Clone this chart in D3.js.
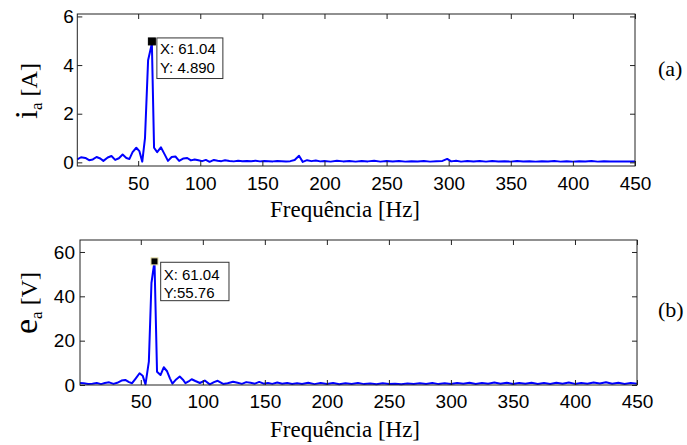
<!DOCTYPE html>
<html>
<head>
<meta charset="utf-8">
<script src="https://cdn.jsdelivr.net/npm/d3@7"></script>
<style>
  html, body { margin: 0; padding: 0; background: #fff; }
  svg { display: block; }
</style>
</head>
<body>
<svg id="chart" width="687" height="445"></svg>
<script>
// ---------- data ----------
const xTickValues = [50, 100, 150, 200, 250, 300, 350, 400, 450];
const iaTickValues = [0, 2, 4, 6];
const eaTickValues = [0, 20, 40, 60];

// (a) current spectrum i_a [A]
const iaFreq = [1, 4, 7.5, 10.5, 13.5, 16.5, 19.5, 22, 25.5, 28.5, 31.5, 34.5, 37.5, 40.5, 43, 45.5, 48.5, 51, 53.3, 55.5, 58, 61.04, 62.8, 65.3, 68.3, 71, 74, 77, 80, 83, 86.5, 89.5, 92.5, 95.5, 98.5, 101.5, 104.5, 107.5, 111, 114, 117, 120, 123.5, 127, 130.5, 134, 137.5, 141, 144.5, 148, 151.5, 155, 158.5, 162, 165.5, 169, 172.5, 176, 179.5, 182.5, 186, 189.5, 193, 196.5, 200, 205, 210, 215, 220, 225, 230, 235, 240, 245, 250, 255, 260, 265, 270, 275, 280, 285, 290, 295, 298.8, 302, 306, 310, 315, 320, 325, 330, 335, 340, 345, 350, 355, 360, 365, 370, 375, 380, 385, 390, 395, 400, 405, 410, 415, 420, 425, 430, 435, 440, 445, 450];
const iaAmp  = [0.12, 0.21, 0.18, 0.09, 0.12, 0.22, 0.16, 0.06, 0.2, 0.26, 0.1, 0.17, 0.32, 0.18, 0.14, 0.42, 0.6, 0.46, 0.03, 1.0, 4.2, 4.89, 0.6, 0.42, 0.62, 0.36, 0.06, 0.22, 0.24, 0.06, 0.16, 0.18, 0.08, 0.12, 0.09, 0.05, 0.1, 0.02, 0.1, 0.07, 0.05, 0.09, 0.06, 0.04, 0.07, 0.05, 0.06, 0.05, 0.07, 0.04, 0.06, 0.05, 0.04, 0.06, 0.05, 0.04, 0.05, 0.1, 0.27, 0.02, 0.09, 0.05, 0.08, 0.04, 0.06, 0.03, 0.07, 0.04, 0.06, 0.03, 0.06, 0.04, 0.07, 0.03, 0.06, 0.04, 0.06, 0.03, 0.05, 0.04, 0.06, 0.03, 0.05, 0.06, 0.14, 0.04, 0.07, 0.03, 0.06, 0.04, 0.06, 0.03, 0.06, 0.04, 0.05, 0.03, 0.06, 0.04, 0.05, 0.03, 0.05, 0.04, 0.06, 0.03, 0.05, 0.03, 0.05, 0.04, 0.06, 0.03, 0.05, 0.04, 0.03, 0.04, 0.03, 0.04];

// (b) voltage spectrum e_a [V]
const eaFreq = [1, 4, 7.5, 11, 14.5, 18, 21, 24.5, 28, 31, 34.5, 37.5, 40.5, 43, 46, 49, 51.5, 53.8, 56.5, 58.6, 61.04, 63.1, 65.9, 68.5, 71.2, 73.5, 75.5, 78.5, 81.4, 84, 86, 88.5, 91, 94, 97.6, 101.6, 105.6, 109, 112, 116.4, 120, 124.4, 128, 131.5, 135, 138.5, 142, 145.5, 149, 152.5, 156, 160, 164, 168, 172, 176, 180, 185, 190, 195, 200, 205, 210, 215, 220, 225, 230, 235, 240, 245, 250, 255, 260, 265, 270, 275, 280, 285, 290, 295, 300, 305, 310, 315, 320, 325, 330, 335, 340, 345, 350, 355, 360, 365, 370, 375, 380, 385, 390, 395, 400, 405, 410, 415, 420, 425, 430, 435, 440, 445, 450];
const eaAmp  = [0.9, 0.8, 0.5, 0.6, 0.9, 0.4, 0.9, 1.2, 0.5, 1.0, 2.0, 2.3, 1.3, 0.8, 3.0, 5.3, 4.2, 0.3, 10.5, 46, 55.76, 6.0, 4.5, 8.0, 6.2, 3.0, 0.6, 2.5, 3.8, 2.4, 0.8, 1.6, 2.6, 1.8, 0.9, 2.0, 0.3, 1.3, 1.9, 0.5, 0.8, 1.5, 1.0, 0.5, 1.3, 1.0, 0.6, 1.4, 0.6, 0.9, 0.5, 1.1, 0.6, 0.9, 0.5, 0.8, 0.5, 1.0, 0.4, 0.9, 0.5, 0.9, 0.3, 0.8, 0.5, 0.9, 0.4, 0.7, 0.3, 0.8, 0.4, 0.6, 0.3, 0.7, 0.4, 0.8, 0.5, 0.9, 0.4, 0.8, 0.5, 0.9, 0.6, 1.0, 0.5, 0.9, 0.6, 1.1, 0.6, 1.0, 0.5, 0.9, 0.6, 1.0, 0.5, 0.9, 0.5, 1.0, 0.6, 1.1, 0.5, 0.9, 0.6, 1.1, 0.7, 1.2, 0.6, 1.0, 0.5, 0.9, 0.6, 1.0];

const peakFreq = 61.04;
const iaPeak = 4.89;
const eaPeak = 55.76;
const iaTipLines = ["X: 61.04", "Y: 4.890"];
const eaTipLines = ["X: 61.04", "Y:55.76"];

// ---------- drawing ----------
const svg = d3.select("#chart");
const tickFont = "'Liberation Sans', Arial, sans-serif";
const serif = "'Liberation Serif', 'Times New Roman', serif";

function panel(cfg) {
  const x = d3.scaleLinear().domain([1, 450]).range([cfg.left, cfg.right]);
  const y = d3.scaleLinear().domain(cfg.yDomain).range([cfg.bottom, cfg.top]);
  const g = svg.append("g");

  g.append("rect")
    .attr("x", cfg.left).attr("y", cfg.top)
    .attr("width", cfg.right - cfg.left).attr("height", cfg.bottom - cfg.top)
    .attr("fill", "#fff");

  const pts = cfg.freq.map((f, i) => [f, cfg.amp[i]]);
  g.append("path")
    .datum(pts)
    .attr("fill", "none")
    .attr("stroke", "#0000ff")
    .attr("stroke-width", 2)
    .attr("stroke-linejoin", "round")
    .attr("d", d3.line().x(d => x(d[0])).y(d => y(d[1])));

  const styleAxis = sel => {
    sel.select(".domain").remove();
    sel.selectAll("line").attr("stroke", "#222");
    sel.selectAll("text").attr("fill", "#000")
      .style("font-family", tickFont).style("font-size", "19px");
  };
  g.append("g").attr("transform", `translate(0,${cfg.bottom})`)
    .call(d3.axisBottom(x).tickValues(xTickValues).tickFormat(d3.format("d"))
      .tickSizeInner(-5).tickSizeOuter(0).tickPadding(cfg.xPad))
    .call(styleAxis);
  g.append("g").attr("transform", `translate(0,${cfg.top})`)
    .call(d3.axisTop(x).tickValues(xTickValues).tickFormat("")
      .tickSizeInner(-5).tickSizeOuter(0))
    .call(styleAxis);
  g.append("g").attr("transform", `translate(${cfg.left},0)`)
    .call(d3.axisLeft(y).tickValues(cfg.yTicks).tickFormat(d3.format("d"))
      .tickSizeInner(-5).tickSizeOuter(0).tickPadding(cfg.yPad))
    .call(styleAxis);
  g.append("g").attr("transform", `translate(${cfg.right},0)`)
    .call(d3.axisRight(y).tickValues(cfg.yTicks).tickFormat("")
      .tickSizeInner(-5).tickSizeOuter(0))
    .call(styleAxis);

  g.append("rect")
    .attr("x", cfg.left).attr("y", cfg.top)
    .attr("width", cfg.right - cfg.left).attr("height", cfg.bottom - cfg.top)
    .attr("fill", "none").attr("stroke", "#222").attr("stroke-width", 1);

  const px = x(peakFreq), py = y(cfg.peak);
  const tip = g.append("g");
  tip.append("rect")
    .attr("x", px + cfg.tipDx).attr("y", py + cfg.tipDy)
    .attr("width", cfg.tipW).attr("height", cfg.tipH)
    .attr("fill", "#fff").attr("stroke", "#333").attr("stroke-width", 1);
  cfg.tipLines.forEach((t, i) => {
    tip.append("text")
      .attr("x", px + cfg.tipDx + 3)
      .attr("y", py + cfg.tipDy + cfg.tipBase + i * 18.4)
      .style("font-family", tickFont).style("font-size", "15px")
      .text(t);
  });
  g.append("rect")
    .attr("x", px - 3.5).attr("y", py - 3.5 + cfg.markDy)
    .attr("width", 7).attr("height", 7)
    .attr("fill", "#000").attr("stroke", cfg.markStroke).attr("stroke-width", 1);

  g.append("text")
    .attr("x", 345).attr("y", cfg.xLabelY)
    .attr("text-anchor", "middle")
    .style("font-family", serif).style("font-size", "23px")
    .text("Frequência [Hz]");

  const yl = g.append("text")
    .attr("transform", `translate(${cfg.yLabelX},${cfg.yLabelY}) rotate(-90)`)
    .attr("text-anchor", "middle")
    .style("font-family", serif).style("font-size", "24px");
  yl.append("tspan").style("font-size", cfg.symSize + "px").text(cfg.sym);
  yl.append("tspan").attr("dy", 5).style("font-size", "17px").text("a");
  yl.append("tspan").attr("dy", -5).text(" " + cfg.unit);

  g.append("text")
    .attr("x", 658).attr("y", cfg.tagY)
    .style("font-family", serif).style("font-size", "22px")
    .text(cfg.tag);
}

panel({
  left: 77.3, right: 635, top: 14, bottom: 166,
  yDomain: [-0.15, 6.1], yTicks: iaTickValues,
  freq: iaFreq, amp: iaAmp, peak: iaPeak,
  xPad: 10.5, yPad: 3.5,
  tipLines: iaTipLines, tipDx: 5, tipDy: -5.5, tipW: 66, tipH: 40.6, tipBase: 16.5,
  markDy: -2, markStroke: "#000",
  xLabelY: 217, yLabelX: 37, yLabelY: 91,
  sym: "i", symSize: 32, unit: "[A]",
  tag: "(a)", tagY: 76
});

panel({
  left: 80, right: 637, top: 240, bottom: 385,
  yDomain: [0, 65.4], yTicks: eaTickValues,
  freq: eaFreq, amp: eaAmp, peak: eaPeak,
  xPad: 9.8, yPad: 5,
  tipLines: eaTipLines, tipDx: 6.2, tipDy: 0.9, tipW: 68.3, tipH: 38.4, tipBase: 17.6,
  markDy: 0, markStroke: "#e8e0a8",
  xLabelY: 437, yLabelX: 37, yLabelY: 303,
  sym: "e", symSize: 34, unit: "[V]",
  tag: "(b)", tagY: 317
});
</script>
</body>
</html>
